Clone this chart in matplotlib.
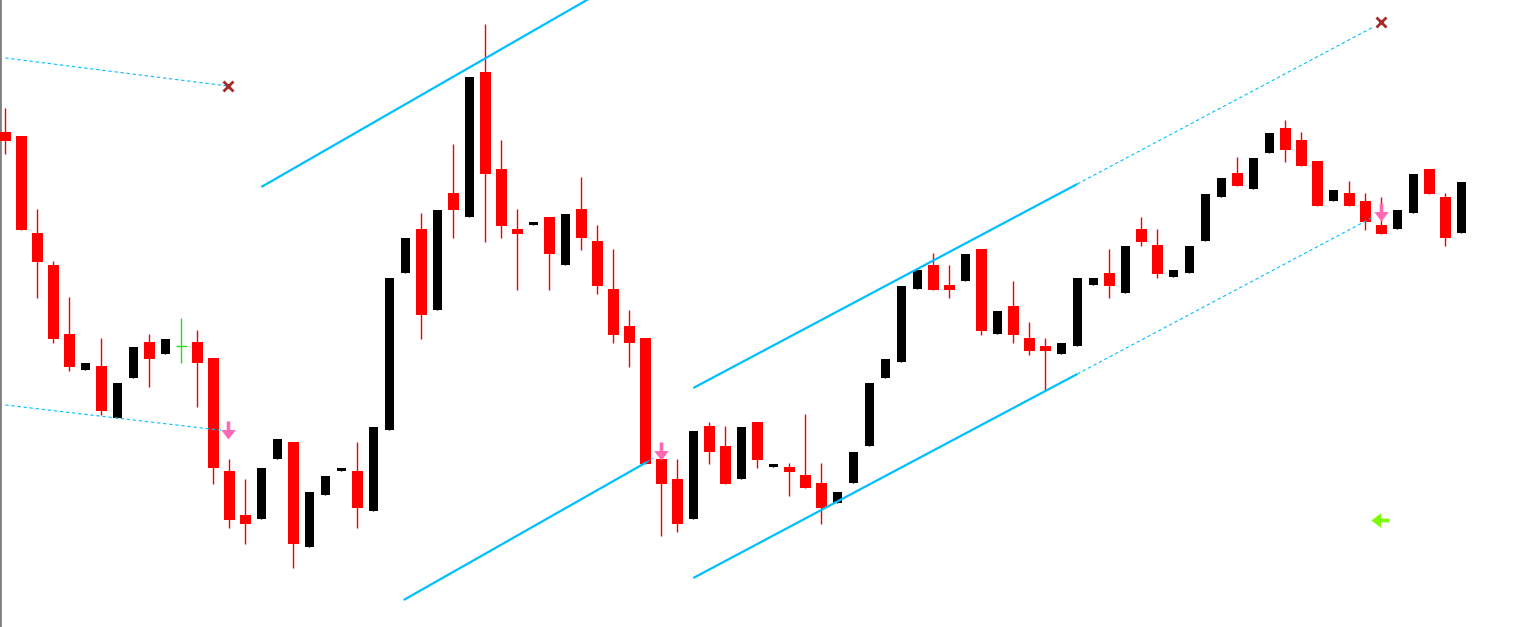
import matplotlib
matplotlib.use("Agg")
import matplotlib.pyplot as plt
from matplotlib.path import Path
import numpy as np

# ---- candle data (price units, arbitrary scale) ----
opens = [495, 491, 394, 362, 293, 257, 261, 209, 249, 285, 273, 281, 285, 269, 156, 112,
         108, 168, 185, 80, 132, 156, 156, 116, 197, 354, 398, 317, 434, 410, 555, 458,
         398, 402, 410, 362, 418, 386, 338, 301, 289, 168, 148, 108, 201, 181, 148, 205,
         160, 160, 152, 144, 124, 144, 181, 249, 265, 338, 362, 342, 346, 378, 293, 321,
         289, 281, 273, 281, 342, 354, 334, 398, 382, 350, 354, 386, 430, 454, 438, 474,
         499, 487, 466, 426, 434, 426, 402, 398, 414, 458, 430, 394]
closes = [486, 397, 365, 288, 260, 264, 216, 244, 280, 268, 288, 281, 264, 159, 107, 103,
          159, 188, 83, 135, 151, 159, 119, 200, 349, 389, 312, 417, 417, 550, 453, 401,
          393, 405, 373, 413, 389, 341, 292, 284, 163, 143, 103, 196, 175, 143, 200, 167,
          163, 155, 139, 119, 135, 175, 244, 268, 341, 357, 337, 337, 373, 296, 316, 292,
          276, 276, 284, 349, 349, 341, 381, 385, 353, 357, 381, 433, 449, 441, 469, 494,
          477, 461, 421, 437, 421, 405, 393, 417, 453, 433, 389, 445]
highs = [519, 491, 418, 366, 330, 264, 289, 244, 280, 293, 288, 309, 297, 269, 168, 148,
         159, 188, 185, 135, 151, 159, 185, 200, 349, 389, 414, 417, 483, 550, 603, 487,
         418, 405, 410, 413, 450, 402, 378, 317, 289, 168, 168, 196, 205, 201, 200, 205,
         163, 164, 213, 164, 135, 175, 244, 268, 341, 357, 374, 362, 373, 378, 316, 346,
         305, 289, 284, 349, 349, 378, 381, 410, 398, 357, 381, 433, 449, 470, 469, 494,
         507, 495, 466, 437, 446, 434, 430, 417, 453, 458, 434, 445]
lows = [473, 397, 329, 284, 256, 257, 212, 209, 249, 240, 273, 264, 220, 143, 99, 83,
        108, 168, 59, 80, 132, 156, 99, 116, 197, 354, 288, 317, 389, 410, 385, 389,
        337, 402, 337, 362, 377, 333, 284, 260, 163, 91, 95, 108, 163, 143, 148, 159,
        160, 131, 139, 103, 124, 144, 181, 249, 265, 338, 337, 329, 346, 292, 293, 284,
        272, 236, 273, 281, 342, 329, 334, 381, 349, 350, 354, 386, 430, 441, 438, 474,
        465, 461, 421, 426, 421, 397, 393, 398, 414, 433, 381, 394]
doji_index = [11]

# ---- drawn objects (candle index, price) ----
dotted_lines = [
    ([0.0, 13.9], [569, 541]),
    ([0.0, 13.9], [222, 196]),
    ([40.1, 40.5], [165, 169]),
    ([67.0, 85.5], [443, 600]),
    ([67.0, 85.5], [253, 410]),
]
solid_lines = [
    ([16.0, 37.0], [440, 633]),
    ([24.9, 40.1], [27, 165]),
    ([43.0, 67.0], [239, 443]),
    ([43.0, 67.0], [49, 253]),
]
x_markers = ([13.9, 86.0], [541, 605])
down_arrows = ([13.95, 41.0, 86.0], [197, 176, 415])
left_arrows = ([85.9], [107])

# ---- marker shapes ----
down_verts = [(-0.2, 1.0), (0.2, 1.0), (0.2, 0.05), (0.8, 0.05), (0.0, -1.0),
              (-0.8, 0.05), (-0.2, 0.05), (-0.2, 1.0)]
down_arrow_marker = Path(down_verts, closed=True)
# swap axes so the head points left
left_arrow_marker = Path([(vy, vx) for (vx, vy) in down_verts], closed=True)

# ---- figure ----
fig = plt.figure(figsize=(15.25, 6.27), dpi=100)
ax = fig.add_axes([0, 0, 1, 1])
ax.set_facecolor("white")

n = len(opens)
x = np.arange(n)
o = np.array(opens, float)
c = np.array(closes, float)
h = np.array(highs, float)
l = np.array(lows, float)

for i in range(n):
    if i in doji_index:
        col = "#22DD22"
        ax.vlines(x[i], l[i], h[i], color=col, lw=1.0, zorder=3)
        ax.hlines(o[i], x[i] - 0.34, x[i] + 0.34, color=col, lw=1.0, zorder=3)
        continue
    if c[i] >= o[i]:
        col = "black"
        w = 0.56
        wick = "black"
    else:
        col = "#FF0000"
        w = 0.69
        wick = "#EE0000"
    ax.vlines(x[i], l[i], h[i], color=wick, lw=1.0, zorder=2)
    ax.bar(x[i], abs(c[i] - o[i]), bottom=min(o[i], c[i]), width=w,
           color=col, linewidth=0, zorder=3)

for xs, ys in solid_lines:
    ax.plot(xs, ys, color="#00BFFF", lw=1.6, solid_capstyle="butt", zorder=4)
for xs, ys in dotted_lines:
    ax.plot(xs, ys, color="#00BFFF", lw=0.8, linestyle=(0, (3, 2.5)), zorder=4)

ax.plot(x_markers[0], x_markers[1], linestyle="none", marker="x",
        markersize=6.5, mew=2, color="#A52A2A", zorder=5)
ax.plot(down_arrows[0], down_arrows[1], linestyle="none", marker=down_arrow_marker,
        markersize=13, color="#FF69B4", mew=0, zorder=6)
ax.plot(left_arrows[0], left_arrows[1], linestyle="none", marker=left_arrow_marker,
        markersize=13, color="#7CFC00", mew=0, zorder=6)

ax.set_xlim(-0.331, 94.98)
ax.set_ylim(0, 627)
ax.set_xticks([])
ax.set_yticks([])
for s in ["top", "right", "bottom"]:
    ax.spines[s].set_visible(False)
ax.spines["left"].set_color("#808080")
ax.spines["left"].set_linewidth(2)

fig.savefig("out.png", dpi=100, facecolor="white")
